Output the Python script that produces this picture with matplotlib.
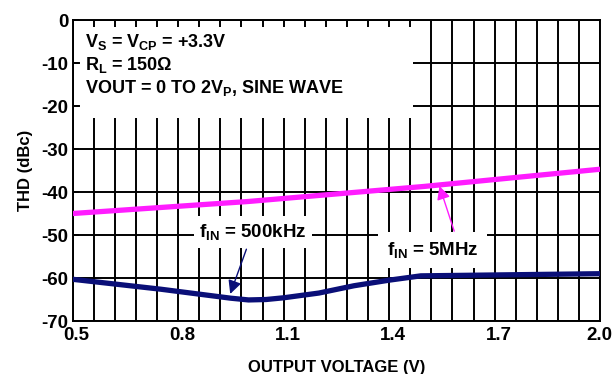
import numpy as np
import matplotlib
matplotlib.use('Agg')
import matplotlib.pyplot as plt
from matplotlib.patches import Rectangle
from matplotlib.transforms import ScaledTranslation

plt.rcParams['font.family'] = 'Liberation Sans'
plt.rcParams['font.weight'] = 'bold'
plt.rcParams['axes.labelweight'] = 'bold'
plt.rcParams['mathtext.fontset'] = 'custom'
plt.rcParams['mathtext.rm'] = 'Liberation Sans:bold'
plt.rcParams['mathtext.it'] = 'Liberation Sans:bold'
plt.rcParams['mathtext.bf'] = 'Liberation Sans:bold'
plt.rcParams['mathtext.default'] = 'rm'

# data
vout_5m = [0.5, 1.0, 1.5, 2.0]
thd_5m = [-45.0, -42.2, -38.7, -34.7]

vout_500k = [0.5, 0.75, 0.95, 1.0, 1.05, 1.1, 1.2, 1.3, 1.4, 1.49, 2.0]
thd_500k = [-60.3, -62.6, -64.7, -65.1, -65.0, -64.6, -63.5, -61.8, -60.5, -59.5, -59.0]

xticks = [0.5, 0.8, 1.1, 1.4, 1.7, 2.0]
yticks = [0, -10, -20, -30, -40, -50, -60, -70]

NAVY = '#0a0f78'
PINK = '#ff1cff'

fig = plt.figure(figsize=(6.13, 3.74), dpi=100)
ax = fig.add_axes([0.1186, 0.1417, 0.979 - 0.1186, 0.9465 - 0.1417])

ax.set_xlim(0.5, 2.0)
ax.set_ylim(-70, 0)
ax.set_xticks(xticks)
ax.set_xticks(np.linspace(0.5, 2.0, 26), minor=True)
ax.set_yticks(yticks)
ax.set_xticklabels(['%.1f' % v for v in xticks])
ax.set_yticklabels([str(v) for v in yticks])

ax.set_axisbelow(True)
ax.grid(True, which='both', color='black', lw=1.4)
ax.tick_params(axis='x', which='both', length=0, labelsize=13.5, pad=4)
ax.tick_params(axis='y', direction='in', length=4, width=1.4, labelsize=13.5, pad=3)
xlabs = ax.get_xticklabels()
for lab in xlabs[:-1]:
    lab.set_transform(lab.get_transform() + ScaledTranslation(4 / 100, 0, fig.dpi_scale_trans))
xlabs[-1].set_transform(xlabs[-1].get_transform() + ScaledTranslation(-1 / 100, 0, fig.dpi_scale_trans))
for s in ax.spines.values():
    s.set_linewidth(1.4)

# white box for the conditions text
ax.add_patch(Rectangle((0.521, -22.8), 1.469 - 0.521, 21.2, facecolor='white',
                       edgecolor='none', zorder=1.5))
ax.text(0.535, -5.2, r'V$_{S}$ = V$_{CP}$ = +3.3V', fontsize=13, va='center', zorder=3)
ax.text(0.535, -10.4, r'R$_{L}$ = 150Ω', fontsize=13, va='center', zorder=3)
ax.text(0.535, -15.8, r'VOUT = 0 TO 2V$_{P}$, SINE WAVE', fontsize=13, va='center', zorder=3)

ax.plot(vout_5m, thd_5m, color=PINK, lw=3.8, solid_capstyle='butt', zorder=3)
ax.plot(vout_500k, thd_500k, color=NAVY, lw=3.8, solid_capstyle='butt', zorder=3)

ax.text(1.013, -49.3, r'f$_{IN}$ = 500kHz', fontsize=13.5, ha='center', va='center', zorder=4,
        bbox=dict(facecolor='white', edgecolor='none', pad=4))
ax.annotate('', xy=(0.948, -63.7), xytext=(0.994, -53.3), zorder=4,
            arrowprops=dict(arrowstyle='-|>', color=NAVY, lw=1, mutation_scale=20, shrinkA=0, shrinkB=0))

ax.text(1.523, -53.5, r'f$_{IN}$ = 5MHz', fontsize=13.5, ha='center', va='center', zorder=4,
        bbox=dict(facecolor='white', edgecolor='none', pad=6))
ax.annotate('', xy=(1.543, -38.6), xytext=(1.585, -49.1), zorder=4,
            arrowprops=dict(arrowstyle='-|>', color=PINK, lw=1, mutation_scale=20, shrinkA=0, shrinkB=0))

ax.set_xlabel('OUTPUT VOLTAGE (V)', fontsize=12, fontweight='bold', labelpad=12)
ax.set_ylabel('THD (dBc)', fontsize=12, fontweight='bold', labelpad=6)

fig.savefig('out.png', dpi=100)
